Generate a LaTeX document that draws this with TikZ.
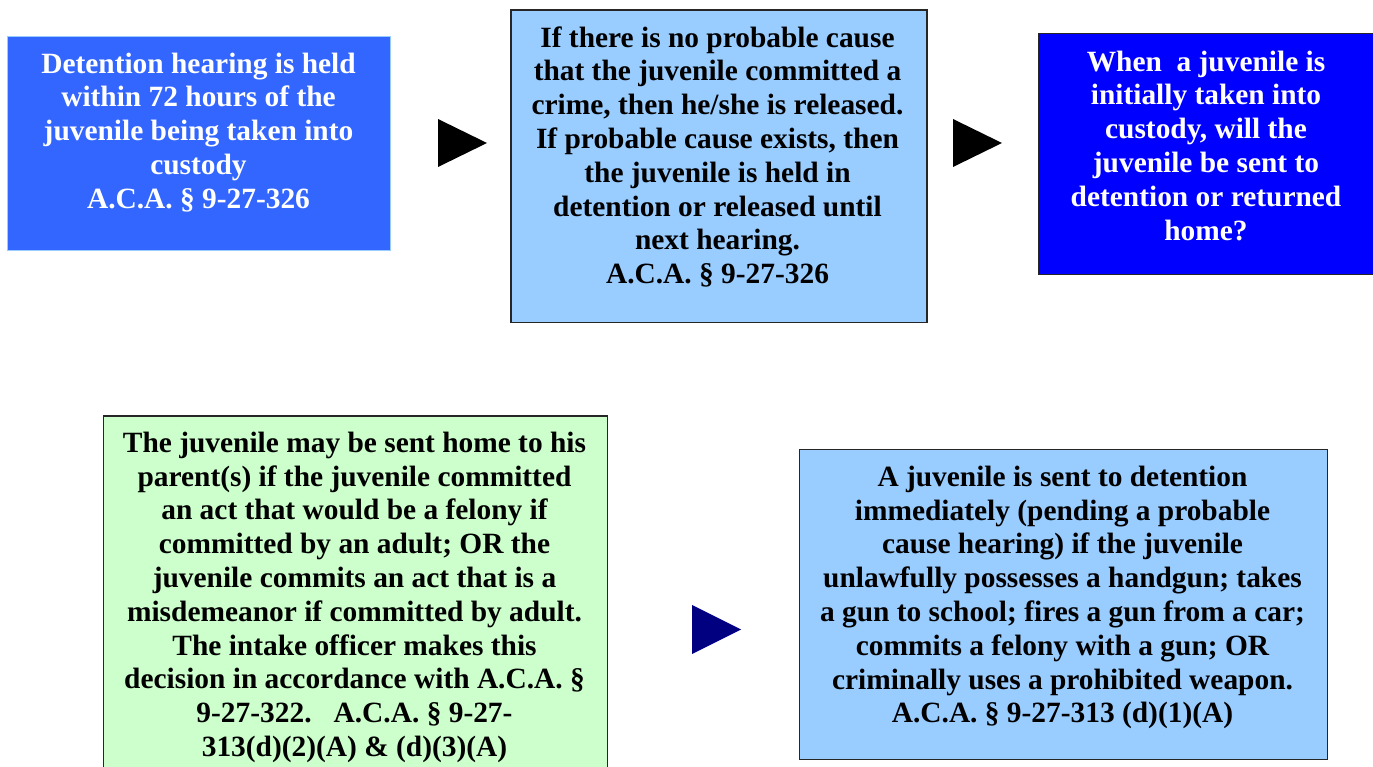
\documentclass[tikz,border=0pt]{standalone}
\usepackage{fontspec}
\setmainfont{Liberation Serif}
\definecolor{boxA}{HTML}{3366FF}
\definecolor{boxAline}{HTML}{99CCFF}
\definecolor{paleblue}{HTML}{99CCFF}
\definecolor{pureblue}{HTML}{0000FF}
\definecolor{palegreen}{HTML}{CCFFCC}
\definecolor{navyarrow}{HTML}{000080}
\begin{document}
\begin{tikzpicture}[x=1pt,y=-1pt,
  boxnode/.style={rectangle, anchor=north west, inner sep=0pt, line width=1.5pt, draw=black!85},
  txt/.style={anchor=north, inner sep=0pt, align=center, font=\bfseries\fontsize{29.4}{33.8}\selectfont}
]
\useasboundingbox (0,0) rectangle (1373,767);
\clip (0,0) rectangle (1373,767);
% boxes
\node (b1) [boxnode, draw=boxAline, line width=1pt, fill=boxA, minimum width=383pt, minimum height=214pt] at (7,36) {};
\node (b2) [boxnode, fill=paleblue, minimum width=416pt, minimum height=312pt] at (510,9.5) {};
\node (b3) [boxnode, fill=pureblue, minimum width=345pt, minimum height=241pt] at (1037.5,33) {};
\node (b4) [boxnode, fill=palegreen, minimum width=504pt, minimum height=370pt] at (102.5,415) {};
\node (b5) [boxnode, fill=paleblue, minimum width=528pt, minimum height=310pt] at (798.5,448.5) {};
% texts
\node (t1) [txt, text=white] at (198.5,51) {\rule{0pt}{22pt}Detention hearing is held\\within 72 hours of the\\juvenile being taken into\\custody\\A.C.A. § 9-27-326};
\node (t2) [txt] at (717.5,25) {\rule{0pt}{22pt}If there is no probable cause\\that the juvenile committed a\\crime, then he/she is released.\\If probable cause exists, then\\the juvenile is held in\\detention or released until\\next hearing.\\A.C.A. § 9-27-326};
\node (t3) [txt, text=white] at (1206,49) {\rule{0pt}{22pt}When\ \ a juvenile is\\initially taken into\\custody, will the\\juvenile be sent to\\detention or returned\\home?};
\node (t4) [txt] at (354.5,430) {\rule{0pt}{22pt}The juvenile may be sent home to his\\parent(s) if the juvenile committed\\an act that would be a felony if\\committed by an adult; OR the\\juvenile commits an act that is a\\misdemeanor if committed by adult.\\The intake officer makes this\\decision in accordance with A.C.A. §\\9-27-322.\ \ \ A.C.A. § 9-27-\\313(d)(2)(A) \& (d)(3)(A)};
\node (t5) [txt] at (1062.5,464) {\rule{0pt}{22pt}A juvenile is sent to detention\\immediately (pending a probable\\cause hearing) if the juvenile\\unlawfully possesses a handgun; takes\\a gun to school; fires a gun from a car;\\commits a felony with a gun; OR\\criminally uses a prohibited weapon.\\A.C.A. § 9-27-313 (d)(1)(A)};
% triangles
\coordinate (a1) at (438,119);
\coordinate (a2) at (953,119);
\coordinate (a3) at (692,605);
\fill[black] (a1) -- ++(49,24) -- ++(-49,24) -- cycle;
\fill[black] (a2) -- ++(49,24) -- ++(-49,24) -- cycle;
\fill[navyarrow] (a3) -- ++(49,24.5) -- ++(-49,24.5) -- cycle;
\end{tikzpicture}
\end{document}
